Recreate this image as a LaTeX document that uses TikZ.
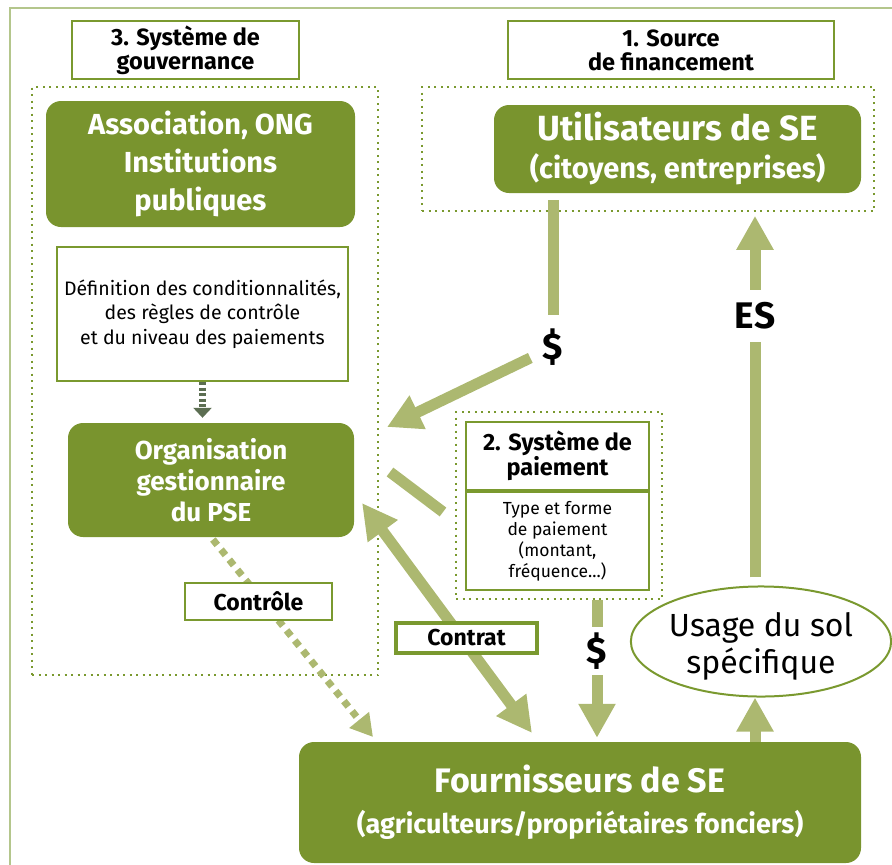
\documentclass[tikz,border=0pt]{standalone}
\usepackage{fontspec}
\setmainfont{Fira Sans}
\usetikzlibrary{arrows.meta,shapes.geometric}

\definecolor{vertfonce}{RGB}{121,148,46}
\definecolor{vertbord}{RGB}{122,153,47}
\definecolor{vertclair}{RGB}{172,184,112}
\definecolor{vertfond}{RGB}{180,198,140}
\definecolor{vertsombre}{RGB}{92,110,82}

\newcommand{\ftitre}{\bfseries\fontsize{23.5}{24}\selectfont}
\newcommand{\fbloc}{\bfseries\fontsize{29}{38}\selectfont}
\newcommand{\ftexte}{\fontsize{19.5}{24.5}\selectfont}
\newcommand{\fpetit}{\fontsize{17.5}{21}\selectfont}
\newcommand{\fetiq}{\bfseries\fontsize{23}{26}\selectfont}
\newcommand{\fsigne}{\bfseries\fontsize{37}{40}\selectfont}

\begin{document}
\begin{tikzpicture}[x=1pt, y=-1pt,
    boite/.style={draw=vertbord, line width=2pt, fill=white, align=center, inner sep=0pt},
    bloc/.style={fill=vertfonce, rounded corners=15pt, text=white, align=center, inner sep=0pt},
    cadre/.style={draw=vertbord, line width=1.6pt, dash pattern=on 2pt off 4.5pt, inner sep=0pt},
    signe/.style={circle, inner sep=0pt, font=\fsigne},
    barre/.style={draw=vertclair, line width=11pt},
    fleche/.style={barre, -{Triangle[width=35pt,length=34pt]}},
    pointille/.style={draw=vertclair, line width=7pt, dash pattern=on 7pt off 6pt, -{Triangle[width=24pt,length=22pt]}},
    tirets/.style={draw=vertsombre, line width=7pt, dash pattern=on 3pt off 2.5pt, -{Triangle[width=18pt,length=10pt]}}]
  \useasboundingbox (0,0) rectangle (892,865);

  % Cadre general
  \draw[vertfond, line width=1.5pt] (10,865) -- (10,8) -- (892,8);

  % Titres
  \node[boite, minimum width=227pt, minimum height=58pt, font=\ftitre] (tgouv) at (185.5,50) {3. Système de\\gouvernance};
  \node[boite, minimum width=326pt, minimum height=58pt, font=\ftitre] (tsource) at (671,50) {1. Source\\de financement};

  % Cadres pointilles
  \node[cadre, minimum width=346pt, minimum height=588pt] (cgouv) at (205,381) {};
  \node[cadre, minimum width=452pt, minimum height=124pt] (csource) at (648,149) {};
  \node[cadre, minimum width=206pt, minimum height=187pt] (cpaie) at (559,505.5) {};

  % Acteurs
  \node[bloc, minimum width=309pt, minimum height=126pt, font=\fbloc] (assoc) at (200.5,164) {Association, ONG\\Institutions\\publiques};
  \node[boite, minimum width=291pt, minimum height=134pt, font=\ftexte] (defin) at (202.5,314) {Définition des conditionnalités,\\des règles de contrôle\\et du niveau des paiements};
  \node[bloc, minimum width=286pt, minimum height=114pt, font=\bfseries\fontsize{26}{31}\selectfont] (orga) at (211,480) {Organisation\\gestionnaire\\du PSE};
  \node[bloc, minimum width=367pt, minimum height=88pt, font=\bfseries\fontsize{29}{38}\selectfont] (util) at (677.5,149) {{\fontsize{35}{38}\selectfont Utilisateurs de SE}\\(citoyens, entreprises)};
  \node[bloc, minimum width=562pt, minimum height=121pt, font=\bfseries\fontsize{27}{41}\selectfont] (fourn) at (580,802.5) {{\fontsize{34}{41}\selectfont Fournisseurs de SE}\\(agriculteurs/propriétaires fonciers)};
  \node[ellipse, draw=vertbord, line width=2pt, minimum width=242pt, minimum height=107pt, inner sep=0pt, align=center, font=\fontsize{32}{37}\selectfont] (usage) at (761,641.5) {\rule{0pt}{34pt}Usage du sol\\spécifique};

  % Systeme de paiement
  \node[boite, minimum width=183pt, minimum height=68pt, font=\ftitre] (ptitre) at (557.5,456) {2. Système de\\paiement};
  \node[boite, minimum width=183pt, minimum height=98pt, font=\fpetit, anchor=north] (pcorps) at (ptitre.south) {Type et forme\\de paiement\\(montant,\\fréquence...)};

  % Signes sur les fleches
  \node[signe, minimum size=50pt] (dolA) at (553,347) {\$};
  \node[signe, minimum size=48pt] (dolB) at (597,651) {\$};
  \node[signe, minimum size=52pt] (es) at (755,316) {ES};

  \coordinate (entreeO) at (387,427);
  \coordinate (ctA) at (362,503);
  \coordinate (ctB) at (532,733);
  \coordinate (pA) at (443,512);
  \coordinate (pB) at (390,472);
  \coordinate (ctrlB) at (373,737);

  % Flux
  \draw[barre, shorten <=7pt, shorten >=7pt] (util.south -| dolA) -- (dolA.north);
  \draw[fleche] (dolA) -- (entreeO);
  \draw[barre] (cpaie.south -| dolB) -- (dolB.north);
  \draw[fleche, shorten >=4pt] (dolB) -- (dolB |- fourn.north);
  \draw[barre, shorten <=8pt] (usage.north -| es) -- (es.south);
  \draw[fleche, shorten >=4pt] (es.north) -- (es |- csource.south);
  \draw[fleche] (fourn.north -| es) -- (usage.south -| es);
  \draw[barre, {Triangle[width=35pt,length=35pt]}-{Triangle[width=35pt,length=35pt]}] (ctA) -- (ctB);
  \draw[barre] (pA) -- (pB);
  \draw[pointille, shorten <=3pt] (orga.south) -- (ctrlB);
  \draw[tirets, shorten >=5pt] (defin.south) -- (defin.south |- orga.north);

  % Etiquettes
  \node[boite, minimum width=147pt, minimum height=37pt, font=\fetiq] (ctrl) at (258.5,601.5) {Contrôle};
  \node[boite, line width=4pt, minimum width=141pt, minimum height=30pt, font=\fetiq] (contrat) at (466.5,638) {Contrat};
\end{tikzpicture}
\end{document}
